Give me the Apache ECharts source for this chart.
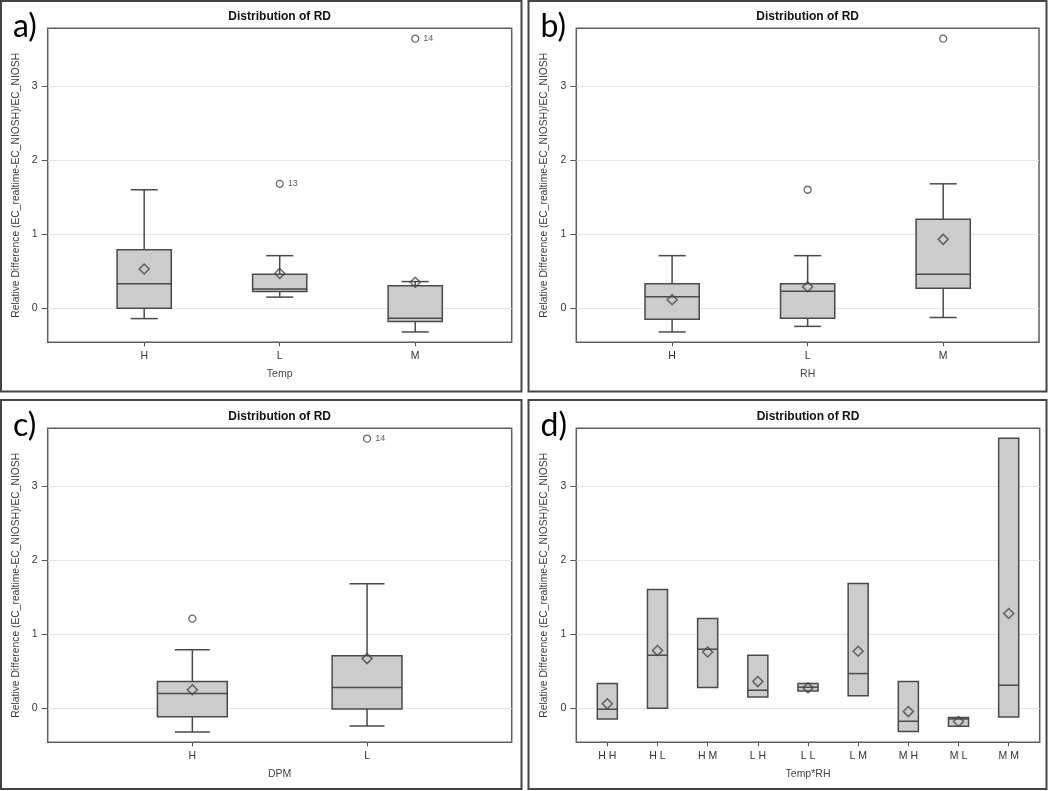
<!DOCTYPE html>
<html>
<head>
<meta charset="utf-8">
<title>Distribution of RD</title>
<script src="https://cdn.jsdelivr.net/npm/echarts@6/dist/echarts.min.js"></script>
<style>
  html, body { margin: 0; padding: 0; background: #fff; }
  #chart { width: 1050px; height: 791px; }
</style>
</head>
<body>
<div id="chart"></div>
<script>
// box stats are [low whisker, Q1, median, Q3, high whisker]
const tempCats = ['H', 'L', 'M'];
const tempStats = [
  [-0.14, 0.00, 0.33, 0.79, 1.60],
  [0.15, 0.225, 0.26, 0.46, 0.71],
  [-0.32, -0.18, -0.135, 0.305, 0.36]
];
const tempMeans = [0.53, 0.47, 0.35];
const tempOutliers = [[1, 1.68, '13'], [2, 3.64, '14']];

const rhCats = ['H', 'L', 'M'];
const rhStats = [
  [-0.32, -0.15, 0.155, 0.33, 0.71],
  [-0.245, -0.135, 0.23, 0.33, 0.71],
  [-0.125, 0.27, 0.46, 1.20, 1.68]
];
const rhMeans = [0.115, 0.29, 0.93];
const rhOutliers = [[1, 1.60, ''], [2, 3.64, '']];

const dpmCats = ['H', 'L'];
const dpmStats = [
  [-0.32, -0.115, 0.20, 0.36, 0.79],
  [-0.24, -0.01, 0.28, 0.71, 1.68]
];
const dpmMeans = [0.25, 0.67];
const dpmOutliers = [[0, 1.21, ''], [1, 3.64, '14']];

// Temp*RH groups: [min, median, max], no whiskers
const comboCats = ['H H', 'H L', 'H M', 'L H', 'L L', 'L M', 'M H', 'M L', 'M M'];
const comboStats = [
  [-0.145, -0.013, 0.333],
  [0.0, 0.716, 1.604],
  [0.279, 0.797, 1.212],
  [0.153, 0.243, 0.716],
  [0.234, 0.284, 0.333],
  [0.167, 0.468, 1.685],
  [-0.315, -0.176, 0.36],
  [-0.243, -0.144, -0.126],
  [-0.117, 0.311, 3.644]
];
const comboMeans = [0.06, 0.78, 0.76, 0.36, 0.275, 0.77, -0.045, -0.18, 1.28];

const yTicks = [0, 1, 2, 3];
const yName = 'Relative Difference (EC_realtime-EC_NIOSH)/EC_NIOSH';

const FONT = '"Liberation Sans", Arial, sans-serif';
const LINE = '#4a4a4a';

const panels = [
  { tag: 'a)', box: [1, 1, 520.5, 390.5], grid: [47.7, 28.3, 464, 314], pad: 0.712,
    xName: 'Temp', cats: tempCats, stats: tempStats, means: tempMeans, outliers: tempOutliers, whiskers: true },
  { tag: 'b)', box: [528.5, 1, 518, 390.5], grid: [576.3, 28.3, 462.7, 314], pad: 0.707,
    xName: 'RH', cats: rhCats, stats: rhStats, means: rhMeans, outliers: rhOutliers, whiskers: true },
  { tag: 'c)', box: [1, 400, 520.5, 389], grid: [47.7, 428.3, 464, 314], pad: 0.828,
    xName: 'DPM', cats: dpmCats, stats: dpmStats, means: dpmMeans, outliers: dpmOutliers, whiskers: true },
  { tag: 'd)', box: [528.5, 400, 518, 389], grid: [576.3, 428.3, 463.4, 314], pad: 0.618,
    xName: 'Temp*RH', cats: comboCats, stats: comboStats.map(s => [s[0], s[0], s[1], s[2], s[2]]),
    means: comboMeans, outliers: [], whiskers: false }
];

function renderBox(whiskers) {
  return function (params, api) {
    const x = api.value(0);
    const half = api.size([0.4, 0])[0] / 2;
    const capHalf = half / 2;
    const pLow = api.coord([x, api.value(1)]);
    const pQ1 = api.coord([x, api.value(2)]);
    const pMed = api.coord([x, api.value(3)]);
    const pQ3 = api.coord([x, api.value(4)]);
    const pHigh = api.coord([x, api.value(5)]);
    const st = { stroke: LINE, lineWidth: 1.5 };
    const kids = [];
    if (whiskers) {
      kids.push({ type: 'line', shape: { x1: pQ3[0], y1: pQ3[1], x2: pHigh[0], y2: pHigh[1] }, style: st });
      kids.push({ type: 'line', shape: { x1: pHigh[0] - capHalf, y1: pHigh[1], x2: pHigh[0] + capHalf, y2: pHigh[1] }, style: st });
      kids.push({ type: 'line', shape: { x1: pQ1[0], y1: pQ1[1], x2: pLow[0], y2: pLow[1] }, style: st });
      kids.push({ type: 'line', shape: { x1: pLow[0] - capHalf, y1: pLow[1], x2: pLow[0] + capHalf, y2: pLow[1] }, style: st });
    }
    kids.push({ type: 'rect', shape: { x: pQ1[0] - half, y: pQ3[1], width: half * 2, height: pQ1[1] - pQ3[1] },
      style: { fill: '#cccccc', stroke: LINE, lineWidth: 1.5 } });
    kids.push({ type: 'line', shape: { x1: pMed[0] - half, y1: pMed[1], x2: pMed[0] + half, y2: pMed[1] }, style: st });
    return { type: 'group', children: kids };
  };
}

const option = {
  animation: false,
  textStyle: { fontFamily: FONT },
  title: [], grid: [], xAxis: [], yAxis: [], series: [], graphic: []
};

panels.forEach((p, i) => {
  const [gl, gt, gw, gh] = p.grid;
  const idx = p.cats.map((c, k) => k);
  option.grid.push({ left: gl, top: gt, width: gw, height: gh, show: true,
    borderColor: '#5e5e5e', borderWidth: 1.5, containLabel: false });
  option.title.push({ text: 'Distribution of RD', left: gl + gw / 2, top: gt - 18, textAlign: 'center', padding: 0,
    textStyle: { fontSize: 12, fontWeight: 'bold', color: '#111', fontFamily: FONT } });
  option.xAxis.push({
    gridIndex: i, type: 'value', position: 'bottom', min: -p.pad, max: p.cats.length - 1 + p.pad,
    axisLine: { show: false, onZero: false },
    axisTick: { show: true, customValues: idx, length: 4, lineStyle: { color: '#555' } },
    axisLabel: { customValues: idx, formatter: v => p.cats[Math.round(v)], fontSize: 10.5, color: '#333', margin: 8 },
    splitLine: { show: false },
    name: p.xName, nameLocation: 'middle', nameGap: 26,
    nameTextStyle: { fontSize: 10.5, color: '#444' }
  });
  option.yAxis.push({
    gridIndex: i, type: 'value', position: 'left', min: -0.46, max: 3.78,
    axisLine: { show: false, onZero: false },
    axisTick: { show: true, customValues: yTicks, length: 6, lineStyle: { color: '#555' } },
    axisLabel: { customValues: yTicks, fontSize: 10.5, color: '#333', margin: 10 },
    splitLine: { show: true, lineStyle: { color: '#e6e6e6', width: 1 } },
    name: yName, nameLocation: 'middle', nameGap: 27,
    nameTextStyle: { fontSize: 10.3, color: '#3c3c3c' }
  });
  option.series.push({
    type: 'custom', xAxisIndex: i, yAxisIndex: i, silent: true, z: 2,
    data: p.stats.map((s, k) => [k].concat(s)),
    encode: { x: 0, y: [1, 2, 3, 4, 5] },
    renderItem: renderBox(p.whiskers)
  });
  option.series.push({
    type: 'scatter', xAxisIndex: i, yAxisIndex: i, silent: true, z: 3,
    symbol: 'diamond', symbolSize: 10,
    itemStyle: { color: 'rgba(0,0,0,0)', borderColor: '#444', borderWidth: 1.5 },
    data: p.means.map((m, k) => [k, m])
  });
  if (p.outliers.length) {
    option.series.push({
      type: 'scatter', xAxisIndex: i, yAxisIndex: i, silent: true, z: 3,
      symbol: 'circle', symbolSize: 7,
      itemStyle: { color: 'rgba(0,0,0,0)', borderColor: '#444', borderWidth: 1.3 },
      label: { show: true, position: 'right', distance: 4, formatter: d => d.data[2],
        fontSize: 9, color: '#333' },
      data: p.outliers
    });
  }
  const [bx, by, bw, bh] = p.box;
  option.graphic.push({ type: 'rect', silent: true, z: 0,
    shape: { x: bx, y: by, width: bw, height: bh },
    style: { fill: null, stroke: '#444', lineWidth: 2 } });
  option.graphic.push({ type: 'text', silent: true, z: 10, x: bx + 12, y: by + 26,
    style: { text: p.tag, font: '32px Lato, "Open Sans", sans-serif', fill: '#000', verticalAlign: 'middle' } });
});

const chart = echarts.init(document.getElementById('chart'));
chart.setOption(option);
</script>
</body>
</html>
